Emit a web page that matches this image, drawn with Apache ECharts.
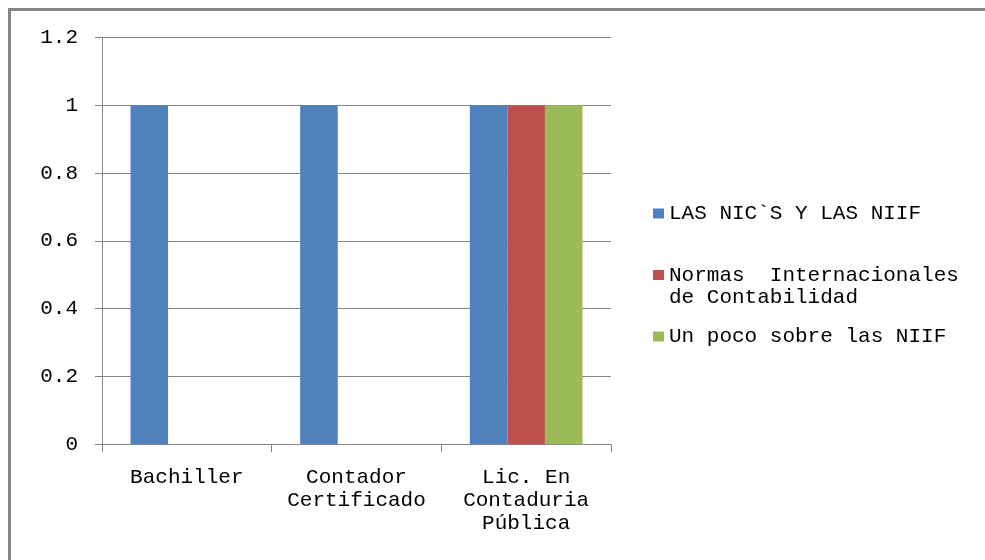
<!DOCTYPE html>
<html>
<head>
<meta charset="utf-8">
<script src="https://cdn.jsdelivr.net/npm/echarts@6/dist/echarts.min.js"></script>
<style>
  html, body { margin: 0; padding: 0; background: #fff; }
  #chart { width: 985px; height: 560px; }
</style>
</head>
<body>
<div id="chart"></div>
<script>
// Education level of respondents and the training material they know
const categories = ['Bachiller', 'Contador\nCertificado', 'Lic. En\nContaduria\nPública'];
const seriesNames = ['LAS NIC`S Y LAS NIIF', 'Normas Internacionales de Contabilidad', 'Un poco sobre las NIIF'];
const nicNiif = [1, 1, 1];
const normasInternacionales = [0, 0, 1];
const unPocoNiif = [0, 0, 1];
const yTickLabels = ['0', '0.2', '0.4', '0.6', '0.8', '1', '1.2'];

const colors = ['#4F81BD', '#C0504D', '#9BBB59'];
const FONT = '"Liberation Mono", "DejaVu Sans Mono", monospace';
const AXIS_GRAY = '#868686';

// Legend labels: the long name wraps onto a second line; a blank lead line keeps
// the swatch beside its first line
const legendLabels = {};
legendLabels[seriesNames[0]] = seriesNames[0];
legendLabels[seriesNames[1]] = '\nNormas  Internacionales\nde Contabilidad';
legendLabels[seriesNames[2]] = seriesNames[2];

const chart = echarts.init(document.getElementById('chart'), null, { renderer: 'canvas' });

chart.setOption({
  animation: false,
  backgroundColor: '#ffffff',
  color: colors,
  textStyle: { fontFamily: FONT },
  graphic: [{
    type: 'rect',
    shape: { x: 9.5, y: 9.5, width: 1100, height: 700 },
    style: { fill: 'none', stroke: AXIS_GRAY, lineWidth: 3 },
    silent: true
  }],
  grid: { left: 102, right: 374, top: 37.5, bottom: 115.7 },
  legend: {
    orient: 'vertical',
    left: 653,
    top: 202.5,
    padding: 0,
    itemWidth: 11,
    itemHeight: 10,
    itemGap: 17.5,
    icon: 'rect',
    selectedMode: false,
    data: seriesNames,
    formatter: name => legendLabels[name],
    textStyle: { fontFamily: FONT, fontSize: 21, lineHeight: 22, color: '#000' }
  },
  xAxis: {
    type: 'category',
    data: categories,
    axisLine: { lineStyle: { color: AXIS_GRAY, width: 1 } },
    axisTick: { show: true, length: 8, lineStyle: { color: AXIS_GRAY } },
    axisLabel: {
      margin: 22,
      fontFamily: FONT,
      fontSize: 21,
      lineHeight: 23,
      color: '#000',
      align: 'center',
      interval: 0
    },
    splitLine: { show: false }
  },
  yAxis: {
    type: 'value',
    min: 0,
    max: 1.2,
    interval: 0.2,
    axisLine: { show: true, lineStyle: { color: AXIS_GRAY, width: 1 } },
    axisTick: { show: true, length: 7, lineStyle: { color: AXIS_GRAY } },
    axisLabel: {
      margin: 24,
      fontFamily: FONT,
      fontSize: 21,
      color: '#000',
      formatter: (v, i) => yTickLabels[i]
    },
    splitLine: { show: true, lineStyle: { color: AXIS_GRAY, width: 1 } }
  },
  series: [
    { name: seriesNames[0], type: 'bar', data: nicNiif, barGap: 0, barCategoryGap: '33.6%' },
    { name: seriesNames[1], type: 'bar', data: normasInternacionales, barGap: 0, barCategoryGap: '33.6%' },
    { name: seriesNames[2], type: 'bar', data: unPocoNiif, barGap: 0, barCategoryGap: '33.6%' }
  ]
});
</script>
</body>
</html>
